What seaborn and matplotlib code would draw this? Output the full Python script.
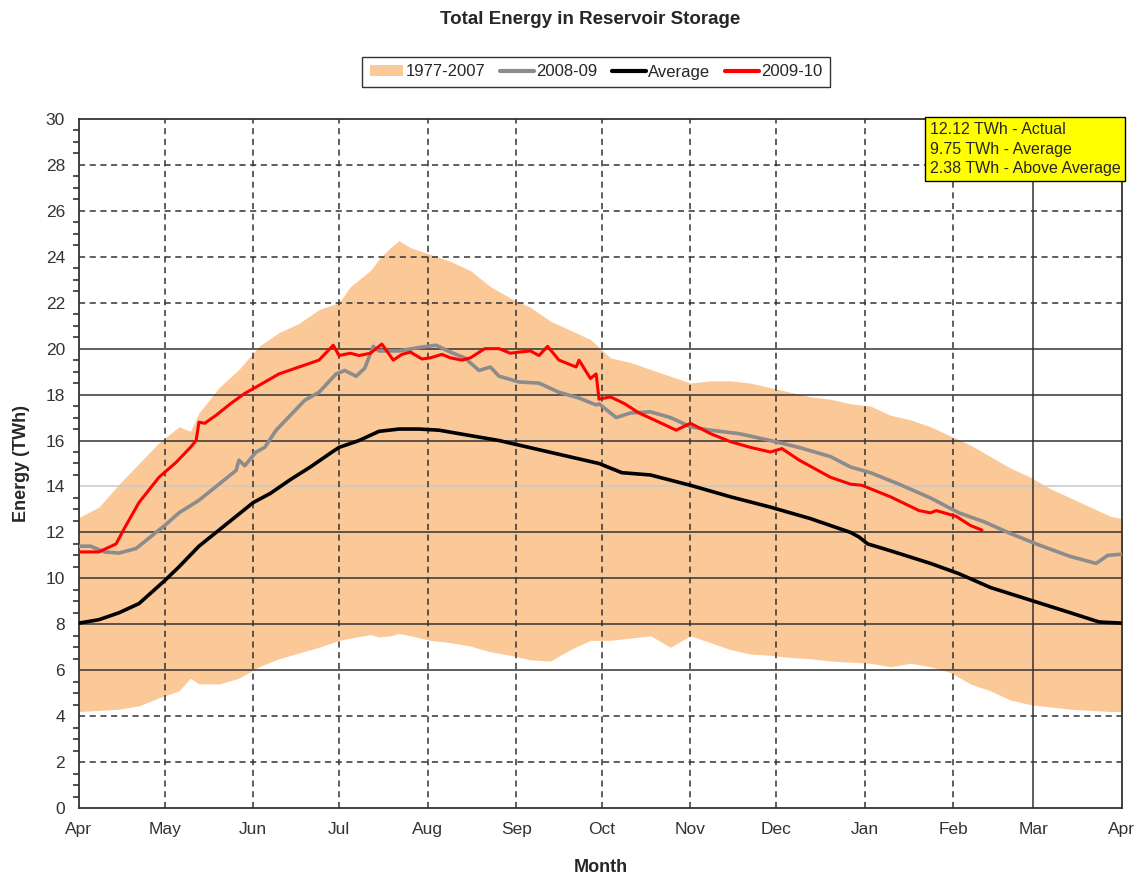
import numpy as np
import pandas as pd
import matplotlib
matplotlib.use("Agg")
import matplotlib.pyplot as plt
import seaborn as sns
from matplotlib.patches import Patch
from matplotlib.lines import Line2D

# x values are days counted from 1 April
month_days = [0, 30, 61, 91, 122, 153, 183, 214, 244, 275, 306, 334, 365]
month_labels = ['Apr', 'May', 'Jun', 'Jul', 'Aug', 'Sep', 'Oct', 'Nov', 'Dec', 'Jan', 'Feb', 'Mar', 'Apr']

# 1977-2007 range (min / max envelope)
band_day = [0, 7, 14, 21, 28, 35, 39, 42, 49, 56, 63, 70, 77, 84, 91, 95, 102, 105, 109, 112,
            116, 123, 130, 137, 144, 151, 158, 165, 172, 179, 186, 193, 200, 207, 214, 221,
            228, 235, 242, 249, 256, 263, 270, 277, 284, 291, 298, 305, 312, 319, 326, 333,
            340, 347, 354, 361, 365]
band_hi = [12.65, 13.1, 14.1, 15.0, 15.9, 16.6, 16.4, 17.2, 18.3, 19.1, 20.1, 20.7, 21.1, 21.7,
           22.0, 22.7, 23.4, 23.9, 24.4, 24.7, 24.4, 24.1, 23.8, 23.4, 22.7, 22.2, 21.8, 21.2,
           20.8, 20.4, 19.6, 19.4, 19.1, 18.8, 18.5, 18.6, 18.6, 18.5, 18.3, 18.1, 17.9, 17.8,
           17.6, 17.5, 17.1, 16.9, 16.6, 16.2, 15.8, 15.3, 14.8, 14.4, 13.9, 13.5, 13.1, 12.7, 12.6]
band_lo = [4.2, 4.25, 4.3, 4.45, 4.8, 5.1, 5.65, 5.4, 5.4, 5.65, 6.15, 6.5, 6.75, 7.0, 7.3, 7.4,
           7.55, 7.45, 7.5, 7.6, 7.5, 7.3, 7.2, 7.05, 6.8, 6.65, 6.45, 6.4, 6.9, 7.3, 7.3, 7.4,
           7.5, 7.0, 7.5, 7.2, 6.9, 6.7, 6.65, 6.55, 6.5, 6.4, 6.35, 6.3, 6.15, 6.3, 6.15, 5.9,
           5.4, 5.1, 4.7, 4.5, 4.4, 4.3, 4.25, 4.2, 4.2]

# 2008-09
prev_day = [0, 4, 9, 14, 20, 25, 30, 35, 42, 49, 55, 56, 58, 62, 65, 69, 74, 79, 84, 90, 93,
            97, 100, 103, 105, 112, 119, 125, 130, 135, 140, 144, 147, 154, 161, 168, 175, 181,
            182, 188, 193, 200, 207, 214, 221, 231, 242, 252, 263, 270, 277, 287, 298, 308, 317,
            326, 336, 347, 356, 360, 365]
prev_val = [11.4, 11.4, 11.15, 11.1, 11.3, 11.8, 12.3, 12.85, 13.4, 14.1, 14.7, 15.15, 14.9,
            15.5, 15.7, 16.45, 17.1, 17.75, 18.1, 18.9, 19.05, 18.8, 19.15, 20.1, 19.9, 19.9,
            20.05, 20.15, 19.85, 19.6, 19.05, 19.2, 18.8, 18.55, 18.5, 18.1, 17.85, 17.55, 17.6,
            17.0, 17.2, 17.25, 17.0, 16.6, 16.45, 16.3, 16.0, 15.7, 15.3, 14.85, 14.6, 14.1,
            13.5, 12.85, 12.45, 11.95, 11.45, 10.95, 10.65, 11.0, 11.05]

# Average
avg_day = [0, 7, 14, 21, 30, 35, 42, 49, 56, 61, 67, 74, 81, 88, 91, 98, 105, 112, 119, 126,
           133, 140, 147, 154, 161, 168, 175, 182, 190, 200, 214, 228, 242, 256, 270, 273, 276,
           284, 298, 308, 319, 333, 347, 357, 365]
avg_val = [8.05, 8.2, 8.5, 8.9, 9.9, 10.5, 11.4, 12.1, 12.8, 13.3, 13.7, 14.3, 14.85, 15.45,
           15.7, 16.0, 16.4, 16.5, 16.5, 16.45, 16.3, 16.15, 16.0, 15.8, 15.6, 15.4, 15.2, 15.0,
           14.6, 14.5, 14.05, 13.55, 13.1, 12.6, 12.0, 11.8, 11.5, 11.2, 10.65, 10.2, 9.6, 9.05,
           8.5, 8.1, 8.05]

# 2009-10
cur_day = [0, 7, 13, 16, 21, 28, 34, 39, 41, 42, 44, 48, 53, 58, 63, 70, 77, 84, 89, 91, 95,
           98, 102, 106, 110, 113, 116, 120, 123, 127, 130, 134, 137, 142, 147, 151, 154, 158,
           161, 164, 168, 174, 175, 179, 181, 182, 186, 191, 196, 203, 209, 214, 221, 228, 235,
           242, 246, 252, 263, 270, 274, 284, 294, 298, 300, 307, 312, 316]
cur_val = [11.15, 11.15, 11.5, 12.2, 13.3, 14.4, 15.05, 15.7, 16.0, 16.8, 16.75, 17.1, 17.6,
           18.05, 18.4, 18.9, 19.2, 19.5, 20.15, 19.7, 19.8, 19.7, 19.8, 20.2, 19.5, 19.75,
           19.85, 19.55, 19.6, 19.75, 19.6, 19.5, 19.6, 20.0, 20.0, 19.8, 19.85, 19.9, 19.7,
           20.1, 19.5, 19.2, 19.5, 18.7, 18.9, 17.8, 17.9, 17.6, 17.2, 16.8, 16.45, 16.75, 16.3,
           15.95, 15.7, 15.5, 15.65, 15.15, 14.4, 14.1, 14.05, 13.55, 12.95, 12.85, 12.95, 12.7,
           12.3, 12.1]

note_lines = ['12.12 TWh - Actual', '9.75 TWh - Average', '2.38 TWh - Above Average']

sns.set_style('white')
plt.rcParams['font.family'] = ['Liberation Sans', 'DejaVu Sans']

fig = plt.figure(figsize=(11.46, 8.8), dpi=100)
ax = fig.add_axes([0.0689, 0.0818, 0.9101, 0.783])

band_color = '#FBC898'
ax.fill_between(band_day, band_lo, band_hi, color=band_color, linewidth=0, zorder=1)

# grid lines: some solid, some dashed, as in the source chart
grid_c = '#333333'
for yv in [6, 8, 10, 12, 16, 18, 20]:
    ax.axhline(yv, color=grid_c, lw=1.1, zorder=2)
for yv in [2, 4, 22, 24, 26, 28]:
    ax.axhline(yv, color=grid_c, lw=1.1, ls=(0, (4, 3)), zorder=2)
ax.axhline(14, color='#c8c8c8', lw=1.1, zorder=2)
for xv in month_days[1:11]:
    ax.axvline(xv, color=grid_c, lw=1.1, ls=(0, (4, 3)), zorder=2)
ax.axvline(month_days[11], color=grid_c, lw=1.1, zorder=2)

sns.lineplot(x=prev_day, y=prev_val, ax=ax, color='#8c8c8c', lw=2.6, zorder=3)
sns.lineplot(x=avg_day, y=avg_val, ax=ax, color='black', lw=2.6, zorder=4)
sns.lineplot(x=cur_day, y=cur_val, ax=ax, color='#ff0000', lw=2.2, zorder=5)

ax.set_xlim(0, 365)
ax.set_ylim(0, 30)
ax.set_xticks(month_days)
ax.set_xticklabels(month_labels)
ax.set_yticks(np.arange(0, 31, 2))
ax.set_yticks(np.arange(0, 30.1, 0.5), minor=True)
ax.tick_params(axis='both', which='major', direction='inout', length=8, width=1.2,
               labelsize=12.5, colors='#333333', pad=6)
ax.tick_params(axis='y', which='minor', direction='out', length=4, width=1.2,
               colors='#333333', left=True)
for s in ax.spines.values():
    s.set_color('#333333')
    s.set_linewidth(1.3)

ax.set_xlabel('Month', fontsize=13, fontweight='bold', labelpad=16)
ax.set_ylabel('Energy (TWh)', fontsize=13, fontweight='bold', labelpad=11)

fig.text(590 / 1146, 1 - 20 / 880, 'Total Energy in Reservoir Storage', ha='center', va='center',
         fontsize=13.5, fontweight='bold')

handles = [Patch(facecolor=band_color, edgecolor='none'),
           Line2D([], [], color='#8c8c8c', lw=3),
           Line2D([], [], color='black', lw=3),
           Line2D([], [], color='#ff0000', lw=3)]
labels = ['1977-2007', '2008-09', 'Average', '2009-10']
leg = fig.legend(handles, labels, loc='center', bbox_to_anchor=(596 / 1146, 1 - 72 / 880), ncol=4,
                 fontsize=12, frameon=True, fancybox=False, edgecolor='black', handlelength=2.0,
                 handletextpad=0.15, columnspacing=0.9, borderpad=0.45)
leg.get_frame().set_linewidth(1.0)

ax.text(0.9985, 0.996, '\n'.join(note_lines), transform=ax.transAxes, ha='right', va='top',
        multialignment='left', fontsize=11.5, linespacing=1.4, zorder=6,
        bbox=dict(boxstyle='square,pad=0.3', facecolor='#ffff00', edgecolor='black', lw=1))

fig.savefig('out.png', dpi=100)
